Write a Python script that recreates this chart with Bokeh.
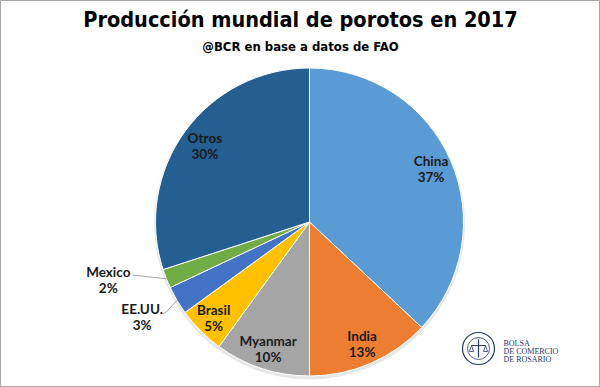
import math
from bokeh.plotting import figure
from bokeh.models import Range1d, Label
from bokeh.core.properties import value
from bokeh.embed import file_html
from bokeh.resources import INLINE

# ---- data ----
categories = ["China", "India", "Myanmar", "Brasil", "EE.UU.", "Mexico", "Otros"]
shares = [37, 13, 10, 5, 3, 2, 30]
colors = ["#5B9BD5", "#ED7D31", "#A5A5A5", "#FFC000", "#4472C4", "#70AD47", "#255E91"]
title_text = "Producción mundial de porotos en 2017"
subtitle_text = "@BCR en base a datos de FAO"
logo_lines = ["BOLSA", "DE COMERCIO", "DE ROSARIO"]

W, H = 600, 387
p = figure(width=W, height=H, x_range=Range1d(0, W), y_range=Range1d(0, H),
           output_backend="svg", toolbar_location=None, min_border=0)
p.axis.visible = False
p.grid.visible = False
p.outline_line_color = "#A6A6A6"
p.background_fill_color = "white"
p.border_fill_color = "white"

cx, cy, R = 309, 165.5, 154

# soft shadow
p.circle(x=[cx], y=[cy - 2], radius=R + 1.5, fill_color="#D0D0D0", fill_alpha=0.5, line_color=None)

total = sum(shares)
starts, ends, mids = [], [], []
cum = 0
for s in shares:
    a0 = math.pi / 2 - cum / total * 2 * math.pi
    cum += s
    a1 = math.pi / 2 - cum / total * 2 * math.pi
    starts.append(a0)
    ends.append(a1)
    mids.append((a0 + a1) / 2)

p.wedge(x=[cx] * len(shares), y=[cy] * len(shares), radius=R,
        start_angle=starts, end_angle=ends, direction="clock",
        fill_color=colors, line_color="white", line_width=1)

font = value("Lato")
label_fs = "13.5px"
label_color = "#1A1A1A"

# label placement (layout): radial factor and optional angle tweak (degrees)
radial = {"China": 0.86, "India": 0.86, "Myanmar": 0.87, "Brasil": 0.88,
          "EE.UU.": 1.25, "Mexico": 1.36, "Otros": 0.84}
tweak = {"EE.UU.": -1.0, "Mexico": -5.5}

lx, ly = [], []
for c, m in zip(categories, mids):
    a = m + math.radians(tweak.get(c, 0))
    d = radial[c] * R
    lx.append(cx + d * math.cos(a))
    ly.append(cy + d * math.sin(a))

names = categories
pcts = [f"{s}%" for s in shares]
p.text(x=lx, y=[y + 8 for y in ly], text=names, text_font=font, text_font_size=label_fs,
       text_font_style="bold", text_color=label_color, text_align="center", text_baseline="middle")
p.text(x=lx, y=[y - 8 for y in ly], text=pcts, text_font=font, text_font_size=label_fs,
       text_font_style="bold", text_color=label_color, text_align="center", text_baseline="middle")

# leader lines for the outside labels
for c, m, x0, y0 in zip(categories, mids, lx, ly):
    ex, ey = cx + R * math.cos(m), cy + R * math.sin(m)
    if c == "Mexico":
        p.line(x=[x0 + 24, ex], y=[y0 + 5, ey], line_color="#A6A6A6", line_width=1)
    elif c == "EE.UU.":
        p.line(x=[x0 + 20, x0 + 24, ex], y=[y0 + 3, y0 + 5, ey], line_color="#A6A6A6", line_width=1)

# titles
title_font = "'Liberation Sans Narrow', 'DejaVu Sans Condensed', 'Roboto Condensed', 'Noto Sans Condensed', 'Open Sans Condensed', 'Roboto', sans-serif"
p.add_layout(Label(x=300, y=368, text=title_text, text_font=title_font,
                   text_font_size="21.5px", text_font_style="bold", text_color="black",
                   text_align="center", text_baseline="alphabetic"))
p.add_layout(Label(x=300, y=341, text=subtitle_text, text_font=title_font,
                   text_font_size="13px", text_font_style="bold", text_color="black",
                   text_align="center", text_baseline="alphabetic"))

# logo
navy = "#23396B"
lcx, lcy = 478, 39
p.circle(x=[lcx], y=[lcy], radius=16, fill_color="white", line_color=navy, line_width=1.2)
p.circle(x=[lcx], y=[lcy], radius=11, fill_color=None, line_color=navy, line_width=0.8)
p.line(x=[lcx, lcx], y=[lcy - 9, lcy + 9], line_color=navy, line_width=1.2)
p.line(x=[lcx - 7, lcx + 7], y=[lcy + 3, lcy + 3], line_color=navy, line_width=1)
p.line(x=[lcx - 7, lcx - 9, lcx - 5, lcx - 7], y=[lcy + 3, lcy - 3, lcy - 3, lcy + 3], line_color=navy, line_width=0.8)
p.line(x=[lcx + 7, lcx + 5, lcx + 9, lcx + 7], y=[lcy + 3, lcy - 3, lcy - 3, lcy + 3], line_color=navy, line_width=0.8)
for i, t in enumerate(logo_lines):
    p.add_layout(Label(x=503, y=44 - 8 * i, text=t, text_font="Liberation Serif",
                       text_font_size="8px", text_color=navy, text_align="left",
                       text_baseline="middle"))

open("out.html", "w").write(file_html(p, INLINE))
